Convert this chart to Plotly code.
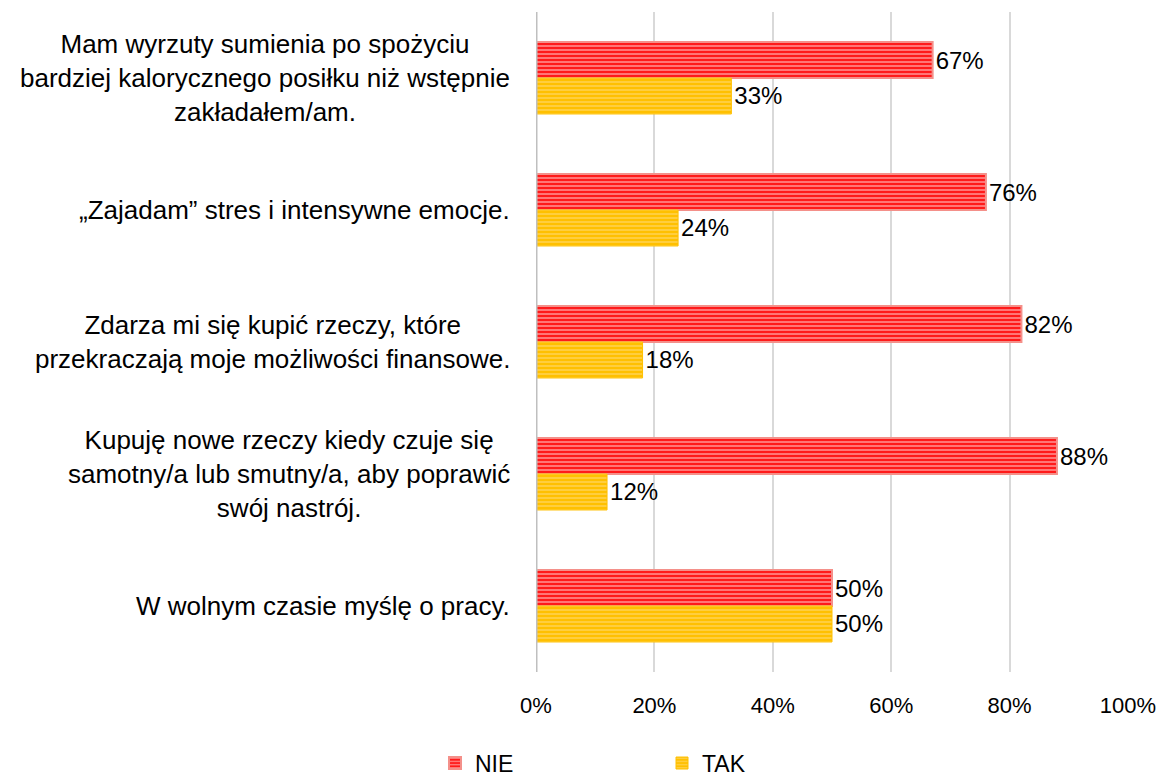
import plotly.graph_objects as go

categories = [
    "Mam wyrzuty sumienia po spożyciu<br>bardziej kalorycznego posiłku niż wstępnie<br>zakładałem/am.",
    "„Zajadam” stres i intensywne emocje.",
    "Zdarza mi się kupić rzeczy, które<br>przekraczają moje możliwości finansowe.",
    "Kupuję nowe rzeczy kiedy czuje się<br>samotny/a lub smutny/a, aby poprawić<br>swój nastrój.",
    "W wolnym czasie myślę o pracy.",
]
nie = [67, 76, 82, 88, 50]
tak = [33, 24, 18, 12, 50]
tick_vals = [0, 20, 40, 60, 80, 100]
tick_text = ["0%", "20%", "40%", "60%", "80%", "100%"]

ids = list(range(len(categories)))
font = "Liberation Sans, Arial, sans-serif"

fig = go.Figure()
fig.add_trace(go.Bar(
    name="NIE", y=ids, x=nie, orientation="h",
    text=[f"{v}%" for v in nie], textposition="outside",
    textfont=dict(size=24, color="black", family=font),
    marker=dict(color="#FF2020", line=dict(color="#F4908A", width=2),
                pattern=dict(shape="-", bgcolor="#FF1A1A", fgcolor="#FFFFFF",
                             size=4, solidity=0.4)),
    cliponaxis=False,
))
fig.add_trace(go.Bar(
    name="TAK", y=ids, x=tak, orientation="h",
    text=[f"{v}%" for v in tak], textposition="outside",
    textfont=dict(size=24, color="black", family=font),
    marker=dict(color="#FFC000", line=dict(color="#FFC000", width=1),
                pattern=dict(shape="-", bgcolor="#FFC000", fgcolor="#FFE49A",
                             size=4, solidity=0.4)),
    cliponaxis=False,
))

for i, c in enumerate(categories):
    fig.add_annotation(
        x=0, xref="paper", y=i, yref="y", xanchor="right", xshift=-24,
        text=c, showarrow=False, align="center",
        font=dict(size=26, color="black", family=font),
    )

fig.update_layout(
    width=1156, height=774,
    margin=dict(l=528, r=36, t=4, b=110, autoexpand=False),
    plot_bgcolor="white", paper_bgcolor="white",
    barmode="group", bargap=0.455, bargroupgap=0,
    font=dict(family=font, size=22, color="black"),
    showlegend=True,
    legend=dict(orientation="h", x=427 / 1156, xref="container", xanchor="left",
                y=-0.138, yref="paper", yanchor="middle",
                entrywidth=182, font=dict(size=23, color="black")),
    xaxis=dict(range=[0, 100], tickvals=tick_vals, ticktext=tick_text,
               showgrid=True, gridcolor="#D9D9D9", gridwidth=2,
               zeroline=False, ticks="", ticklabelstandoff=18, automargin=False,
               tickfont=dict(size=22, color="black")),
    yaxis=dict(range=[4.5, -0.5], tickvals=ids, showticklabels=False, automargin=False,
               showgrid=False, zeroline=False, showline=False),
)
fig.add_shape(type="line", xref="x", yref="paper", x0=0, x1=0, y0=0, y1=1,
              line=dict(color="#BFBFBF", width=3))

fig.write_html("out.html")
